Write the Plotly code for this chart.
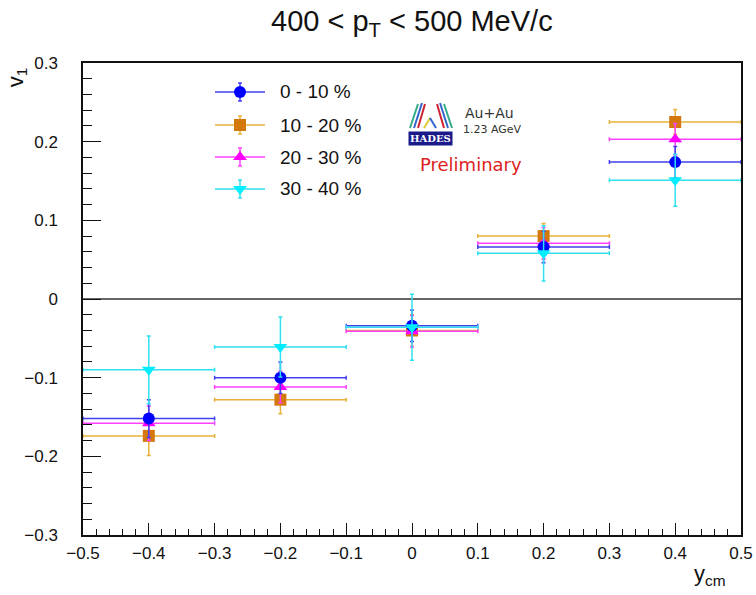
import plotly.graph_objects as go

# ---- data ----
y_cm = [-0.4, -0.2, 0.0, 0.2, 0.4]
bin_half_width = [0.1, 0.1, 0.1, 0.1, 0.1]

labels = ["0 - 10 %", "10 - 20 %", "20 - 30 %", "30 - 40 %"]
v1_c0_10 = [-0.152, -0.100, -0.034, 0.066, 0.174]
err_c0_10 = [0.024, 0.020, 0.020, 0.020, 0.020]
v1_c10_20 = [-0.174, -0.128, -0.040, 0.080, 0.225]
err_c10_20 = [0.025, 0.018, 0.020, 0.016, 0.016]
v1_c20_30 = [-0.158, -0.112, -0.041, 0.071, 0.203]
err_c20_30 = [0.022, 0.020, 0.020, 0.020, 0.020]
v1_c30_40 = [-0.090, -0.061, -0.036, 0.058, 0.151]
err_c30_40 = [0.043, 0.038, 0.042, 0.035, 0.033]

x_ticks = [-0.5, -0.4, -0.3, -0.2, -0.1, 0, 0.1, 0.2, 0.3, 0.4, 0.5]
x_ticklabels = ["\u22120.5", "\u22120.4", "\u22120.3", "\u22120.2", "\u22120.1", "0", "0.1", "0.2", "0.3", "0.4", "0.5"]
y_ticks = [-0.3, -0.2, -0.1, 0, 0.1, 0.2, 0.3]
y_ticklabels = ["\u22120.3", "\u22120.2", "\u22120.1", "0", "0.1", "0.2", "0.3"]

# ---- layout geometry (pixels) ----
W, H = 756, 595
L, R, T, B = 83, 15, 63, 60
PW, PH = W - L - R, H - T - B


def px(x):
    return (x - L) / PW


def py(y):
    return (H - B - y) / PH


FONT = "Liberation Sans, Arial, sans-serif"

# (label, values, errors, marker symbol, marker colour, line colour, legend row y in px)
series = [
    (labels[1], v1_c10_20, err_c10_20, "square", "#d4780c", "#e8b23a", 125),
    (labels[2], v1_c20_30, err_c20_30, "triangle-up", "#ff00ff", "#ff40ff", 157),
    (labels[0], v1_c0_10, err_c0_10, "circle", "#0000ff", "#4040ee", 92),
    (labels[3], v1_c30_40, err_c30_40, "triangle-down", "#00eeff", "#30e0f0", 189),
]

fig = go.Figure()

for name, vals, errs, sym, mcol, lcol, ly in series:
    fig.add_trace(go.Scatter(
        x=y_cm, y=vals, mode="markers", name=name,
        marker=dict(symbol=sym, size=12, color=mcol, line=dict(width=0)),
        error_x=dict(type="data", array=bin_half_width, color=lcol, thickness=1.5, width=2),
        error_y=dict(type="data", array=errs, color=lcol, thickness=1.5, width=2),
        showlegend=False,
    ))

# ---- manual ROOT-style legend on a pixel-space overlay axis ----
LEG_X0, LEG_X1, LEG_XM, LEG_TX = 215, 265, 240, 278
for name, vals, errs, sym, mcol, lcol, ly in series:
    fig.add_trace(go.Scatter(
        x=[LEG_X0, LEG_X1], y=[ly, ly], mode="lines", line=dict(color=lcol, width=1.5),
        xaxis="x2", yaxis="y2", showlegend=False, hoverinfo="skip",
    ))
    fig.add_trace(go.Scatter(
        x=[LEG_XM], y=[ly], mode="markers",
        marker=dict(symbol=sym, size=12, color=mcol, line=dict(width=0)),
        error_y=dict(type="constant", value=9, color=lcol, thickness=1.5, width=2),
        xaxis="x2", yaxis="y2", showlegend=False, hoverinfo="skip",
    ))

# empty trace so the title-carrying axis is drawn
fig.add_trace(go.Scatter(x=[None], y=[None], xaxis="x", yaxis="y3", showlegend=False, hoverinfo="skip"))

# zero line
fig.add_shape(type="line", xref="x", yref="y", x0=-0.5, x1=0.5, y0=0, y1=0,
              line=dict(color="#333333", width=1.5), layer="below")

xaxis = dict(
    range=[-0.5, 0.5], tickmode="array", tickvals=x_ticks, ticktext=x_ticklabels,
    ticks="inside", ticklen=12, tickwidth=1, tickcolor="#111",
    minor=dict(dtick=0.02, tick0=0, ticks="inside", ticklen=6, tickcolor="#111", showgrid=False),
    showline=True, linecolor="#111", linewidth=1.5, mirror=True,
    showgrid=False, zeroline=False, automargin=False,
    tickfont=dict(family=FONT, size=17, color="#111"), ticklabelstandoff=2,
)
yaxis = dict(
    range=[-0.3, 0.3], tickmode="array", tickvals=y_ticks, ticktext=y_ticklabels,
    ticks="inside", ticklen=18, tickwidth=1, tickcolor="#111",
    minor=dict(dtick=0.02, tick0=0, ticks="inside", ticklen=9, tickcolor="#111", showgrid=False),
    showline=True, linecolor="#111", linewidth=1.5, mirror=True,
    showgrid=False, zeroline=False, automargin=False,
    tickfont=dict(family=FONT, size=17, color="#111"), ticklabelstandoff=20,
)

annotations = [
    dict(text="400 < p<sub>T</sub> < 500 MeV/c", x=px(412), y=py(23), xref="paper", yref="paper",
         showarrow=False, xanchor="center", yanchor="middle", font=dict(family=FONT, size=29, color="#111")),
    dict(text="y<sub>cm</sub>", x=px(710), y=py(575), xref="paper", yref="paper",
         showarrow=False, xanchor="center", yanchor="middle", font=dict(family=FONT, size=22, color="#111")),
    dict(text="Au+Au", x=px(463), y=py(113), xref="paper", yref="paper",
         showarrow=False, xanchor="left", yanchor="middle", font=dict(family="DejaVu Sans", size=14, color="#333")),
    dict(text="1.23 AGeV", x=px(461), y=py(130), xref="paper", yref="paper",
         showarrow=False, xanchor="left", yanchor="middle", font=dict(family="DejaVu Sans", size=11, color="#333")),
    dict(text="Preliminary", x=px(471), y=py(164), xref="paper", yref="paper",
         showarrow=False, xanchor="center", yanchor="middle", font=dict(family="DejaVu Sans", size=18, color="#dd2222")),
    dict(text="<b>HADES</b>", x=px(430), y=py(138), xref="paper", yref="paper",
         showarrow=False, xanchor="center", yanchor="middle", bgcolor="#1a1a8a",
         font=dict(family="DejaVu Serif", size=10, color="white"), borderpad=1),
]
for i, lab in enumerate(labels):
    ly = [92, 125, 157, 189][i]
    annotations.append(dict(text=lab, x=px(LEG_TX), y=py(ly), xref="paper", yref="paper",
                            showarrow=False, xanchor="left", yanchor="middle",
                            font=dict(family=FONT, size=19, color="#111")))

# simple HADES-like logo strokes
logo_lines = [
    (410, 128, 418, 104, "#33aa88"), (414, 128, 422, 103, "#3366cc"), (418, 128, 425, 104, "#cc2233"),
    (452, 128, 444, 104, "#33aa88"), (448, 128, 440, 103, "#3366cc"), (444, 128, 437, 104, "#cc2233"),
    (424, 128, 430, 118, "#ddcc33"), (436, 128, 430, 118, "#3366cc"),
]
for x0, y0, x1, y1, c in logo_lines:
    fig.add_shape(type="line", xref="paper", yref="paper", x0=px(x0), y0=py(y0), x1=px(x1), y1=py(y1),
                  line=dict(color=c, width=2))

# rotated y-axis title placed at the top end of the axis (ROOT style), via a small free axis
yaxis3 = dict(domain=[py(92), 1.0], anchor="free", position=0,
              showline=False, showticklabels=False, ticks="", showgrid=False, zeroline=False,
              range=[0, 1], fixedrange=True, automargin=False,
              title=dict(text="v<sub>1</sub>", standoff=52, font=dict(family=FONT, size=22, color="#111")))

fig.update_layout(
    width=W, height=H, margin=dict(l=L, r=R, t=T, b=B),
    paper_bgcolor="white", plot_bgcolor="rgba(0,0,0,0)",
    annotations=annotations,
    showlegend=False,
    xaxis=xaxis, yaxis=yaxis, yaxis3=yaxis3,
    xaxis2=dict(overlaying="x", range=[L, W - R], visible=False, fixedrange=True, automargin=False),
    yaxis2=dict(overlaying="y", range=[H - B, T], visible=False, fixedrange=True, automargin=False),
)

fig.write_html("out.html")
